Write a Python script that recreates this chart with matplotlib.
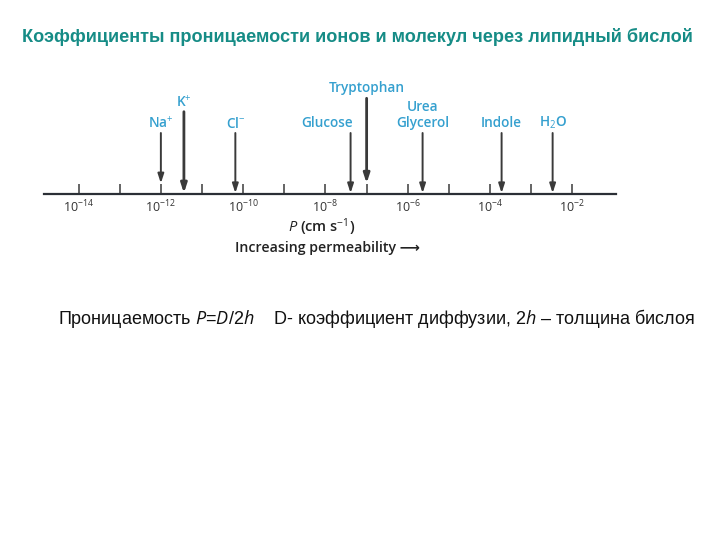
import matplotlib
matplotlib.use("Agg")
from matplotlib import pyplot as plt
from matplotlib import font_manager

# permeability coefficients, log10(P / cm s^-1)
substances = ["Na$^{+}$", "K$^{+}$", "Cl$^{-}$", "Glucose", "Tryptophan",
              "Glycerol", "Indole", "H$_2$O"]
log_p = [-12.0, -11.44, -10.19, -7.39, -7.0, -5.64, -3.72, -2.48]
# extra labels stacked above an arrow
extra_labels = {"Glycerol": "Urea"}
# arrows that start higher up (px above the axis line)
arrow_top = {"K$^{+}$": 82.6, "Tryptophan": 96.0}
# label shifted sideways from its arrow (decades)
label_shift = {"Glucose": -0.56}

tick_decades = list(range(-14, -1))
labelled_decades = [-14, -12, -10, -8, -6, -4, -2]

title = "Коэффициенты проницаемости ионов и молекул через липидный бислой"
caption = "Проницаемость $P$=$D$/2$h$    D- коэффициент диффузии, 2$h$ – толщина бислоя"


def find_font(name):
    for f in font_manager.findSystemFonts():
        if f.endswith(name):
            return font_manager.FontProperties(fname=f)
    return None


bold_fp = find_font("LiberationSans-Bold.ttf")

plt.rcParams["mathtext.fontset"] = "custom"
plt.rcParams["mathtext.rm"] = "Open Sans"
plt.rcParams["mathtext.it"] = "Open Sans:italic"
plt.rcParams["mathtext.bf"] = "Open Sans:bold"

blue = "#35a0cf"
dark = "#3a3a3a"

fig = plt.figure(figsize=(7.2, 5.4), dpi=100)

if bold_fp is not None:
    bold_fp.set_size(13.1)
    fig.text(357 / 720, 1 - 37 / 540, title, ha="center", va="center",
             fontproperties=bold_fp, color="#168c86")
else:
    fig.text(357 / 720, 1 - 37 / 540, title, ha="center", va="center",
             fontsize=13.1, fontweight="bold", color="#168c86")

# caption in Arial-like font, italic bits via mathtext
plt.rcParams["mathtext.it"] = "Liberation Sans:italic"
plt.rcParams["mathtext.rm"] = "Liberation Sans"
fig.text(58 / 720, 1 - 319 / 540, caption, ha="left", va="center",
         fontsize=12.95, color="#111111", family="Liberation Sans")
plt.rcParams["mathtext.rm"] = "Open Sans"
plt.rcParams["mathtext.it"] = "Open Sans:italic"

# the scale itself: bottom spine is the axis line, y in px above it
line_y = 194.3
ax = fig.add_axes([44 / 720, (540 - line_y) / 540, (616 - 44) / 720, 114.3 / 540])
ax.set_xlim(-14.84, -0.94)
ax.set_ylim(0, 114.3)
for s in ["top", "left", "right"]:
    ax.spines[s].set_visible(False)
ax.spines["bottom"].set_linewidth(1.6)
ax.spines["bottom"].set_color("#2b2f36")
ax.set_yticks([])
ax.set_xticks(tick_decades)
ax.set_xticklabels([f"10$^{{{d}}}$" if d in labelled_decades else "" for d in tick_decades])
ax.tick_params(axis="x", direction="in", length=7.5, width=1.1, color="#3a3a3a",
               labelsize=9, labelcolor="#333333", pad=3)
for lab in ax.get_xticklabels():
    lab.set_family("Open Sans")
ax.patch.set_alpha(0)

for name, lp in zip(substances, log_p):
    top = arrow_top.get(name, 61.3)
    on_tick = abs(lp - round(lp)) < 0.05
    tip = 11.0 if on_tick else 1.2
    lw = 2.0 if name in arrow_top else 1.4
    ax.annotate("", xy=(lp, tip), xytext=(lp, top),
                arrowprops=dict(arrowstyle="-|>,head_length=0.55,head_width=0.18",
                                color=dark, lw=lw, shrinkA=0, shrinkB=0),
                annotation_clip=False)
    lx = lp + label_shift.get(name, 0)
    ax.text(lx, top + 10, name, ha="center", va="center", fontsize=9.8,
            color=blue, family="Open Sans", fontweight="semibold", clip_on=False)
    if name in extra_labels:
        ax.text(lx, top + 26, extra_labels[name], ha="center", va="center",
                fontsize=9.8, color=blue, family="Open Sans", fontweight="semibold",
                clip_on=False)

fig.text(322 / 720, 1 - 226.7 / 540, "$P$ (cm s$^{-1}$)", ha="center", va="center",
         fontsize=10.5, color="#222222", family="Open Sans", fontweight="semibold")
fig.text(235 / 720, 1 - 248 / 540, "Increasing permeability \u27f6", ha="left",
         va="center", fontsize=10.2, color="#222222", family=["Open Sans", "DejaVu Sans"],
         fontweight="semibold")

fig.savefig("out.png", dpi=100)
